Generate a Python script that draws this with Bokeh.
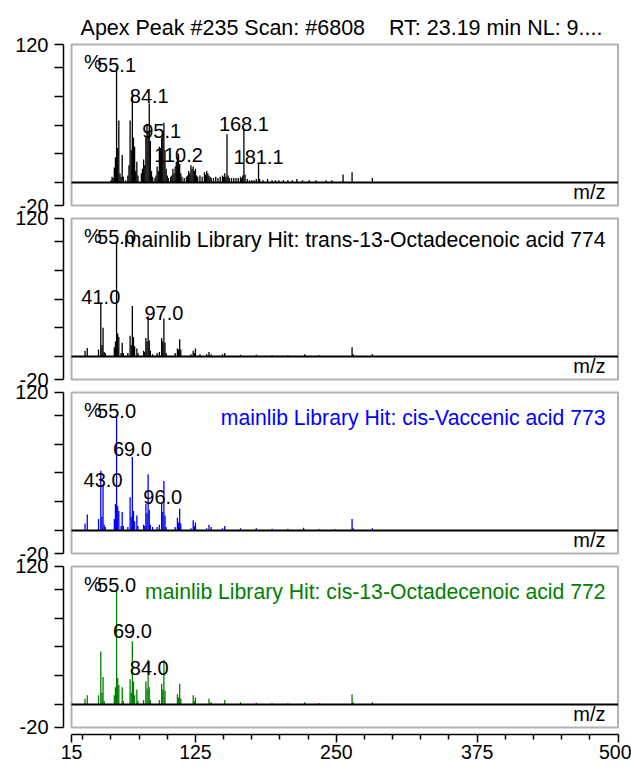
from bokeh.plotting import figure
from bokeh.models import Range1d, FixedTicker, BoxAnnotation, ColumnDataSource, AllLabels
from bokeh.embed import file_html
from bokeh.resources import INLINE
from bokeh.core.properties import value

FONT = "Liberation Sans"
FS = "20px"

# ---------------- data ----------------
title_text = "Apex Peak #235 Scan: #6808\u00a0\u00a0\u00a0 RT: 23.19 min NL: 9...."

x_ticks = [15, 125, 250, 375, 500]
x_minor = [25, 50, 75, 100, 150, 175, 200, 225, 275, 300, 325, 350, 400, 425, 450, 475]
y_ticks = [-20, 120]
y_minor = [0, 25, 50, 75, 100]

# experimental scan
exp_mz = [50, 51, 52, 53, 54, 55, 56, 57, 58, 59, 60, 61, 63, 65, 66, 67, 68, 69, 70, 71, 72, 73, 74,
          77, 78, 79, 80, 81, 82, 83, 84, 85, 86, 87, 89, 90, 91, 92, 93, 94, 95, 96, 97, 98, 99, 100,
          101, 103, 104, 105, 106, 107, 108, 109, 110, 111, 112, 113, 115, 117, 118, 119, 120, 121, 122,
          123, 124, 125, 126, 127, 129, 131, 133, 134, 135, 136, 137, 138, 139, 141, 143, 145, 147, 149,
          150, 151, 152, 153, 154, 155, 157, 159, 161, 163, 165, 166, 167, 168, 169, 171, 173, 175, 177,
          179, 181, 182, 185, 189, 193, 196, 199, 203, 207, 211, 215, 220, 226, 232, 241, 246, 256, 264, 282]
exp_int = [2, 5, 4, 13, 22, 100, 30, 54, 8, 5, 24, 5, 2, 6, 15, 54, 28, 76, 39, 31, 10, 18, 6,
           8, 12, 20, 15, 39, 51, 45, 69, 36, 10, 5, 4, 6, 14, 10, 31, 25, 39, 45, 52, 28, 12, 6,
           4, 5, 6, 12, 8, 14, 18, 22, 25, 16, 8, 5, 4, 5, 6, 10, 8, 15, 12,
           14, 10, 12, 6, 5, 6, 5, 9, 7, 10, 8, 6, 5, 4, 4, 5, 4, 5, 6,
           5, 8, 5, 42, 6, 4, 4, 4, 4, 4, 5, 4, 6, 46, 7, 3, 2, 2, 2,
           3, 16, 3, 2, 3, 2, 2, 2, 2, 2, 2, 3, 2, 2, 2, 2, 2, 7, 9, 4]
exp_labels = ["55.1", "84.1", "95.1", "110.2", "168.1", "181.1"]
exp_label_mz = [55, 84, 95, 110, 168, 181]
exp_label_y = [102, 75, 45, 23.5, 51, 22]

# library hit 1
hit1_name = "mainlib Library Hit: trans-13-Octadecenoic acid 774"
hit1_mz = [27, 29, 39, 41, 42, 43, 44, 45, 53, 54, 55, 56, 57, 59, 60, 61, 65, 67, 68, 69, 70, 71, 73, 74,
           79, 80, 81, 82, 83, 84, 85, 87, 91, 93, 95, 96, 97, 98, 99, 107, 109, 110, 111, 112, 121, 123,
           124, 125, 129, 135, 137, 139, 149, 151, 165, 179, 193, 207, 222, 235, 264, 265, 282]
hit1_int = [5, 7.5, 6, 46, 10, 25, 4, 3, 8, 13, 100, 20, 17, 3, 12, 3, 3, 18, 10, 44, 17, 9, 7, 3,
            5, 4, 16, 13, 35, 14, 5, 2, 3, 4, 16, 13, 33, 12, 3, 3, 7, 6, 15, 6, 2, 5,
            3, 7, 2, 2, 4, 2, 2, 3, 1.5, 1.5, 1, 1, 2, 1, 8, 2, 2]
hit1_labels = ["55.0", "41.0", "97.0"]
hit1_label_mz = [55, 41, 97]
hit1_label_y = [104, 52, 38]

# library hit 2
hit2_name = "mainlib Library Hit: cis-Vaccenic acid 773"
hit2_mz = [27, 29, 39, 41, 42, 43, 44, 45, 53, 54, 55, 56, 57, 59, 60, 61, 65, 67, 68, 69, 70, 71, 73, 74,
           79, 80, 81, 82, 83, 84, 85, 87, 91, 93, 95, 96, 97, 98, 99, 107, 109, 110, 111, 112, 121, 123,
           124, 125, 135, 137, 139, 149, 151, 165, 179, 193, 207, 221, 235, 249, 264, 265, 282]
hit2_int = [6, 14, 10, 52, 12, 39, 5, 3, 10, 23, 100, 21, 17, 4, 16, 4, 3, 29, 12, 64, 17, 8, 13, 4,
            5, 4, 23, 15, 49, 18, 5, 3, 3, 5, 23, 16, 43, 13, 3, 3, 11, 7, 19, 6, 2, 9,
            4, 7, 2, 5, 3, 2, 4, 2, 2, 1.5, 1.5, 2.5, 1, 1, 10, 2, 2]
hit2_labels = ["55.0", "69.0", "43.0", "96.0"]
hit2_label_mz = [55, 69, 43, 96]
hit2_label_y = [104, 71, 44, 29]

# library hit 3
hit3_name = "mainlib Library Hit: cis-13-Octadecenoic acid 772"
hit3_mz = [27, 29, 39, 41, 42, 43, 44, 53, 54, 55, 56, 57, 60, 61, 67, 68, 69, 70, 71, 73, 74,
           79, 81, 82, 83, 84, 85, 93, 95, 96, 97, 98, 109, 110, 111, 112, 123, 124, 125, 137, 139,
           151, 165, 179, 193, 207, 222, 235, 264, 265, 282]
hit3_int = [5, 8, 8, 46, 10, 24, 3, 8, 15, 100, 23, 17, 15, 3, 22, 10, 55, 20, 8, 13, 3,
            4, 20, 14, 39, 15, 4, 4, 18, 13, 39, 12, 9, 6, 18, 5, 8, 3, 6, 5, 2,
            4, 2, 1.5, 1, 1, 2, 1, 9, 2, 2]
hit3_labels = ["55.0", "69.0", "84.0"]
hit3_label_mz = [55, 69, 84]
hit3_label_y = [104, 64, 32]

panels = [
    dict(mz=exp_mz, inten=exp_int, color="black", labels=exp_labels,
         label_mz=exp_label_mz, label_y=exp_label_y, hit=None, hit_y=None),
    dict(mz=hit1_mz, inten=hit1_int, color="black", labels=hit1_labels,
         label_mz=hit1_label_mz, label_y=hit1_label_y, hit=hit1_name, hit_y=101.5),
    dict(mz=hit2_mz, inten=hit2_int, color="#0000FF", labels=hit2_labels,
         label_mz=hit2_label_mz, label_y=hit2_label_y, hit=hit2_name, hit_y=98.5),
    dict(mz=hit3_mz, inten=hit3_int, color="#008000", labels=hit3_labels,
         label_mz=hit3_label_mz, label_y=hit3_label_y, hit=hit3_name, hit_y=98.5),
]

# ---------------- layout ----------------
X0, X1 = 15, 500
Y0, Y1 = -20, 120
KX = 546.5 / 485.0          # px per m/z unit
KY = 1.15                   # px per % unit
SP = 151.3                  # vertical spacing of stacked panels (in % units)
LEFT_GAP = 8                # px gap between y axis and box
BOTTOM_GAP = 7              # px gap between last box and x axis
N = len(panels)

y_end = Y1 + 2 / KY
y_start = Y0 - (N - 1) * SP - BOTTOM_GAP / KY
frame_h = int(round((y_end - y_start) * KY))

p = figure(frame_width=556, frame_height=frame_h,
           min_border_left=63, min_border_right=12, min_border_top=42, min_border_bottom=0,
           x_range=Range1d(X0 - LEFT_GAP / KX, X1 + 1.5 / KX),
           y_range=Range1d(y_start, y_end),
           output_backend="svg", toolbar_location=None, title=title_text)
p.outline_line_color = None
p.xgrid.visible = False
p.ygrid.visible = False
p.title.text_font = FONT
p.title.text_font_size = "21.5px"
p.title.text_font_style = "normal"
p.title.text_color = "black"
p.title.align = "center"
p.title.offset = 0
p.title.standoff = 5

# y axis: one bracket per stacked panel
offs = [k * SP for k in range(N)]
maj, mnr, overrides = [], [], {}
for o in offs:
    for t in y_ticks:
        maj.append(t - o)
        overrides[t - o] = str(t)
    for t in y_minor:
        mnr.append(t - o)
ya = p.yaxis[0]
ya.ticker = FixedTicker(ticks=maj, minor_ticks=mnr)
ya.major_label_overrides = overrides
ya.major_label_policy = AllLabels()
ya.bounds = (Y0 - offs[-1], Y1)
ya.major_tick_out = 9
ya.major_tick_in = 0
ya.minor_tick_out = 9
ya.minor_tick_in = 0
for attr in ("axis_line", "major_tick_line", "minor_tick_line"):
    setattr(ya, attr + "_width", 1.5)
    setattr(ya, attr + "_color", "black")
# break the axis line between the stacked panels
seg_on = int(round((Y1 - Y0) * KY))
seg_off = int(round((SP - (Y1 - Y0)) * KY))
ya.axis_line_dash = "%d %d" % (seg_on, seg_off)
ya.major_label_text_font = FONT
ya.major_label_text_font_size = FS
ya.major_label_text_color = "black"
ya.major_label_standoff = 6

xa = p.xaxis[0]
xa.ticker = FixedTicker(ticks=x_ticks, minor_ticks=x_minor)
xa.bounds = (X0, X1)
xa.major_tick_out = 8
xa.major_tick_in = 0
xa.minor_tick_out = 5
xa.minor_tick_in = 0
for attr in ("axis_line", "major_tick_line", "minor_tick_line"):
    setattr(xa, attr + "_width", 1.5)
    setattr(xa, attr + "_color", "black")
xa.major_label_text_font = FONT
xa.major_label_text_font_size = "19.5px"
xa.major_label_text_color = "black"
xa.major_label_standoff = 2

tf = value(FONT)
for o, d in zip(offs, panels):
    # box of the panel
    p.add_layout(BoxAnnotation(left=X0, right=X1, bottom=Y0 - o, top=Y1 - o,
                               fill_alpha=0, line_color="black", line_width=2,
                               level="overlay"))
    src = ColumnDataSource(dict(mz=d["mz"],
                                y0=[-o] * len(d["mz"]),
                                y1=[v - o for v in d["inten"]]))
    p.segment(x0="mz", y0="y0", x1="mz", y1="y1", source=src,
              line_color=d["color"], line_width=1.3)
    p.line(x=[X0, X1], y=[-o, -o], line_color="black", line_width=2)
    p.text(x=d["label_mz"], y=[v - o for v in d["label_y"]], text=d["labels"],
           text_align="center", text_baseline="alphabetic", text_font=tf,
           text_font_size=FS, text_color="black")
    p.text(x=[34], y=[105 - o], text=["%"], text_align="center", text_baseline="middle",
           text_font=tf, text_font_size=FS, text_color="black")
    p.text(x=[488.9], y=[-8.6 - o], text=["m/z"], text_align="right",
           text_baseline="alphabetic", text_font=tf, text_font_size=FS, text_color="black")
    if d["hit"] is not None:
        p.text(x=[488.9], y=[d["hit_y"] - o], text=[d["hit"]], text_align="right",
               text_baseline="alphabetic", text_font=tf, text_font_size="21.2px",
               text_color=d["color"])

open("out.html", "w").write(file_html(p, INLINE))
